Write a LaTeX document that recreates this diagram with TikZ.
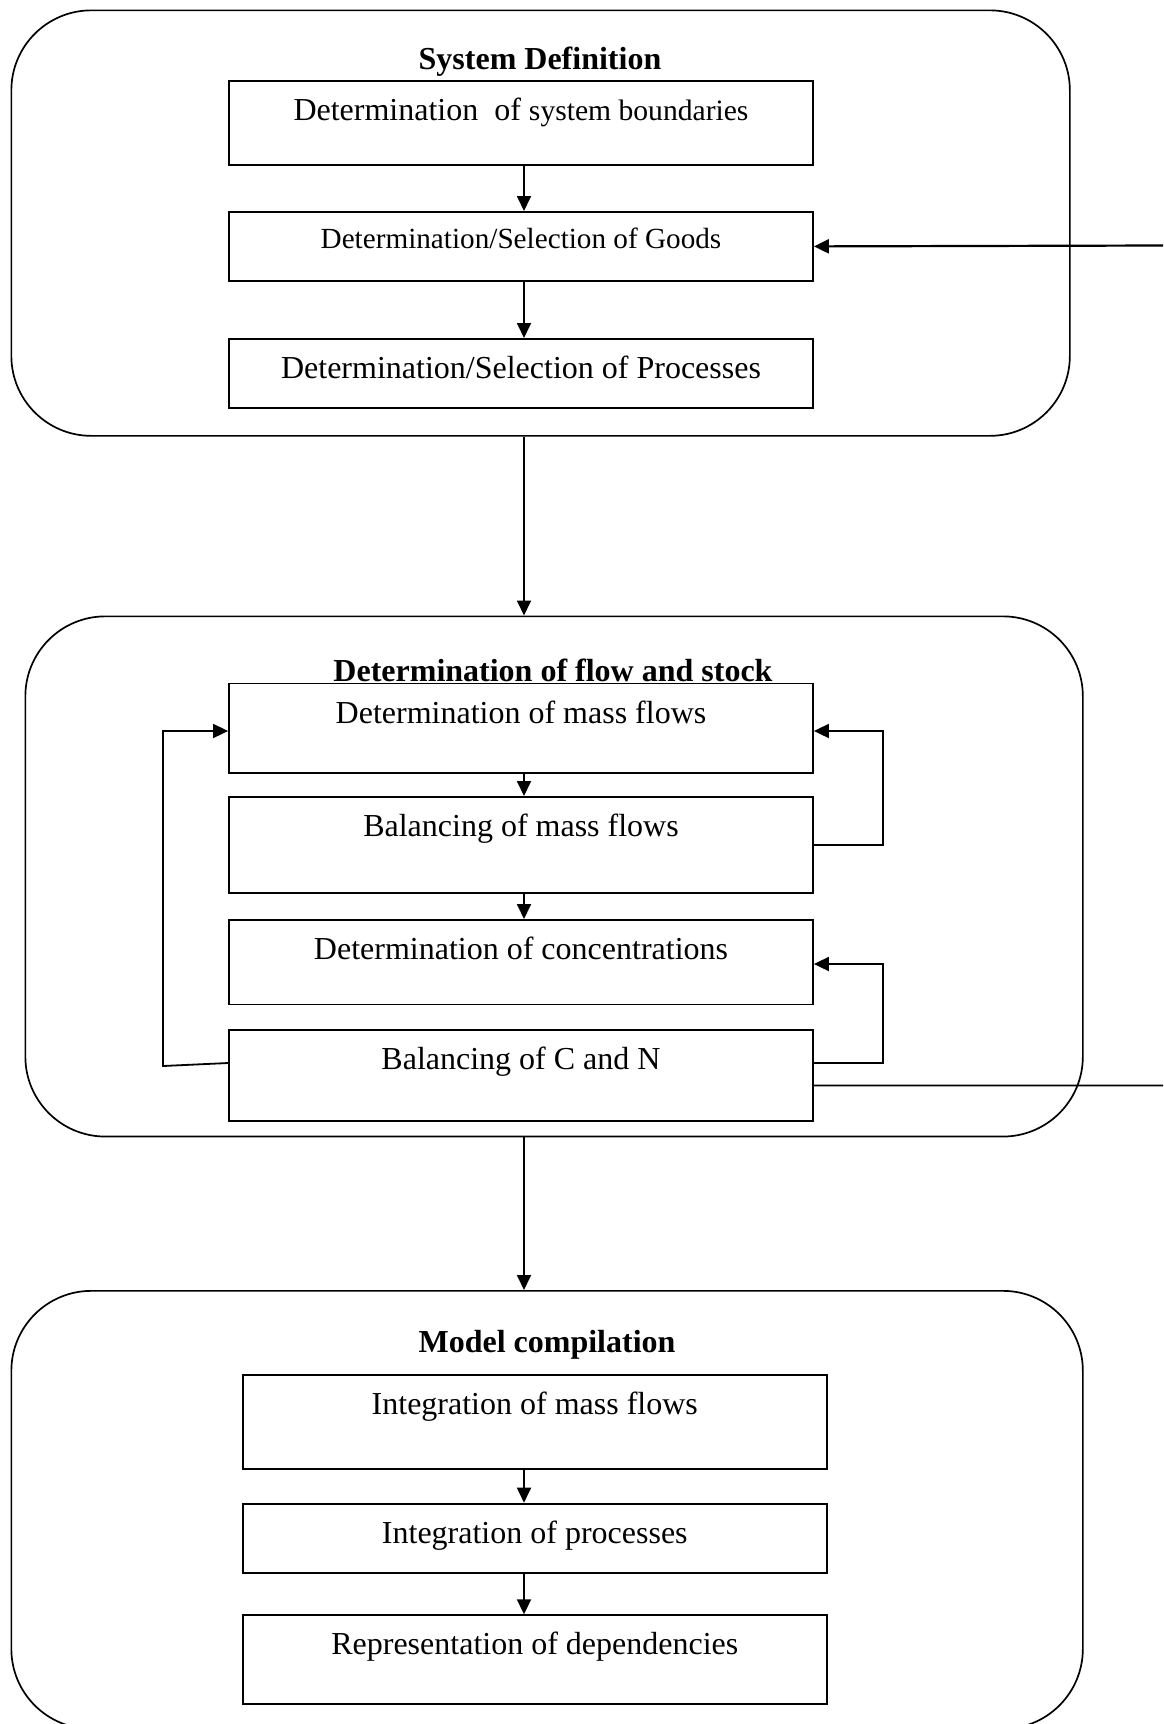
\documentclass[tikz,border=0pt]{standalone}
\usepackage{fontspec}
\setmainfont{Liberation Serif}
\usetikzlibrary{arrows.meta,calc}
\begin{document}
\begin{tikzpicture}[x=0.5pt,y=-0.5pt,
  group/.style={draw, line width=0.85pt, rounded corners=40pt, inner sep=0pt, anchor=north west},
  stepbox/.style={draw, line width=0.9pt, inner xsep=0pt, inner ysep=0pt, minimum width=292pt, anchor=north, text height=19.75pt, text depth=#1, font=\fontsize{16}{19}\selectfont},
  grouptitle/.style={font=\fontsize{16}{19}\selectfont\bfseries, inner sep=0pt, anchor=base},
  arr/.style={line width=0.9pt, -{Triangle[length=7.5pt,width=7pt]}},
  link/.style={line width=0.8pt}
]
\useasboundingbox (0,0) rectangle (1163,1724);

% groups
\node[group, minimum width=529.25pt, minimum height=212.75pt] (grpA) at (10.5,9.5) {};
\node[group, minimum width=528.75pt, minimum height=260.1pt] (grpB) at (24.5,615.5) {};
\node[group, minimum width=535.75pt, minimum height=219pt] (grpC) at (10.5,1290) {};

% titles
\node[grouptitle] (tA) at (540,69) {System Definition};
\node[grouptitle] (tB) at (553,681) {Determination of flow and stock};
\node[grouptitle] (tC) at (547,1352.7) {Model compilation};

% boxes
\node[stepbox=22.25pt] (A) at (521,80) {Determination\ \ of {\fontsize{14.8}{17}\selectfont system boundaries}};
\node[stepbox=16pt, text height=18.5pt, font=\fontsize{14.6}{17}\selectfont] (B) at (521,211) {Determination/Selection of Goods};
\node[stepbox=14.75pt] (C) at (521,338) {Determination/Selection of Processes};

\node[stepbox=24.95pt] (D) at (521,682.6) {Determination of mass flows};
\node[stepbox=28.25pt] (E) at (521,796) {Balancing of mass flows};
\node[stepbox=22.55pt] (F) at (521,919) {Determination of concentrations};
\node[stepbox=25.9pt] (G) at (521,1028.7) {Balancing of C and N};

\node[stepbox=26.95pt] (H) at (534.8,1374.3) {Integration of mass flows};
\node[stepbox=14.9pt] (I) at (534.8,1502.7) {Integration of processes};
\node[stepbox=24.45pt] (J) at (534.8,1614.3) {Representation of dependencies};

% axis for vertical arrows
\coordinate (ax) at (524,0);
\draw[arr] (A.south -| ax) -- (B.north -| ax);
\draw[arr] (B.south -| ax) -- (C.north -| ax);
\draw[arr] (grpA.south -| ax) -- (grpB.north -| ax);
\draw[arr] (D.south -| ax) -- (E.north -| ax);
\draw[arr] (E.south -| ax) -- (F.north -| ax);
\draw[arr] (grpB.south -| ax) -- (grpC.north -| ax);
\draw[arr] (H.south -| ax) -- (I.north -| ax);
\draw[arr] (I.south -| ax) -- (J.north -| ax);

% left feedback loop
\coordinate (gw) at ($(G.north west)+(0,34.3)$);
\coordinate (lb) at (163,1066);
\coordinate (lt) at (163,731);
\draw[arr] (gw) -- (lb) -- (lt) -- (D.west |- lt);

% right feedback loops
\coordinate (rx) at (883,0);
\coordinate (dIn) at ($(D.north east)+(0,48.4)$);
\coordinate (eOut) at ($(E.north east)+(0,48.8)$);
\draw[arr] (eOut) -| (rx |- dIn) -- (dIn);
\coordinate (fIn) at ($(F.north east)+(0,45)$);
\coordinate (gOut) at ($(G.north east)+(0,34.3)$);
\draw[arr] (gOut) -| (rx |- fIn) -- (fIn);

% lines leaving the picture on the right
\coordinate (gExit) at ($(G.north east)+(0,56.8)$);
\coordinate (edgeLo) at (1163,1085.5);
\draw[link] (gExit) -- (edgeLo);
\coordinate (edgeHi) at (1163,245.5);
\draw[arr, line width=1.1pt] (edgeHi) -- (B.east);
\end{tikzpicture}
\end{document}
